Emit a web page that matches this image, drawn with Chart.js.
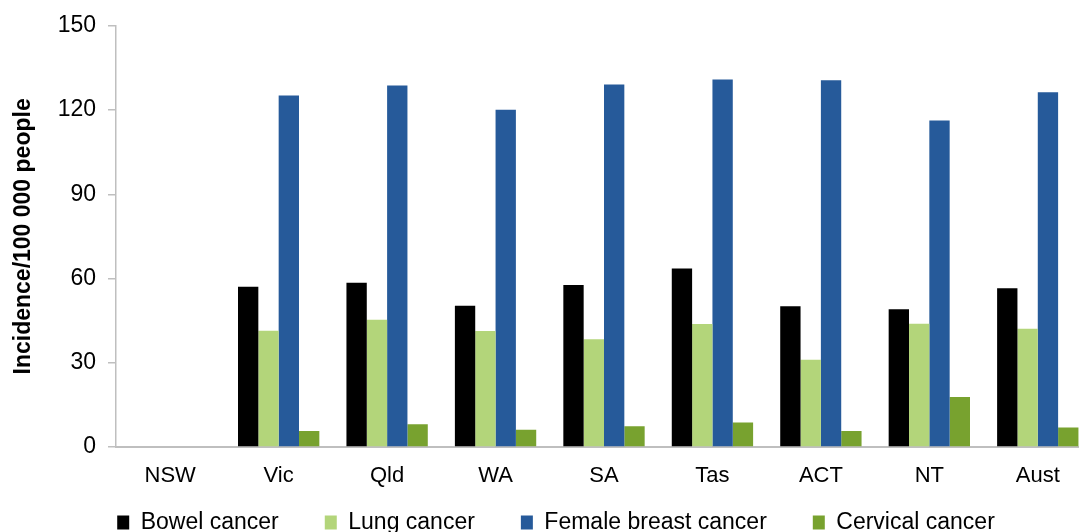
<!DOCTYPE html>
<html>
<head>
<meta charset="utf-8">
<script src="https://cdn.jsdelivr.net/npm/chart.js@4.4.1/dist/chart.umd.min.js"></script>
<style>
    html, body { margin: 0; padding: 0; background: #fff; overflow: hidden; }
    #wrap { width: 1092px; height: 578px; position: relative; }
</style>
</head>
<body>
<div id="wrap"><canvas id="chart"></canvas></div>
<script>
const CATEGORIES = ['NSW', 'Vic', 'Qld', 'WA', 'SA', 'Tas', 'ACT', 'NT', 'Aust'];
const BOWEL = [null, 57.1, 58.5, 50.3, 57.7, 63.6, 50.1, 49.1, 56.5];
const LUNG = [null, 41.4, 45.3, 41.3, 38.4, 43.8, 31.1, 43.9, 42.1];
const BREAST = [null, 125.2, 128.7, 120.1, 129.1, 130.9, 130.6, 116.3, 126.3];
const CERVICAL = [null, 5.7, 8.1, 6.1, 7.4, 8.7, 5.7, 17.8, 6.9];
const Y_TICKS = [0, 30, 60, 90, 120, 150];

const FONT = 'Liberation Sans, Arial, sans-serif';
const AXIS_GREY = '#bfbfbf';
const LEGEND_LIFT = 34;

const series = [
    { label: 'Bowel cancer', data: BOWEL, color: '#000000' },
    { label: 'Lung cancer', data: LUNG, color: '#b3d57a' },
    { label: 'Female breast cancer', data: BREAST, color: '#265a9a' },
    { label: 'Cervical cancer', data: CERVICAL, color: '#78a22f' },
];

// wide label padding spaces the legend items out but also pads it vertically,
// so pull the legend box back up once layout is done
const liftLegend = {
    id: 'liftLegend',
    afterLayout(chart) {
        if (!chart.legend) return;
        chart.legend.top -= LEGEND_LIFT;
        chart.legend.bottom -= LEGEND_LIFT;
    },
};

new Chart(document.getElementById('chart'), {
    type: 'bar',
    data: {
        labels: CATEGORIES,
        datasets: series.map(s => ({
            label: s.label,
            data: s.data,
            backgroundColor: s.color,
            borderWidth: 0,
            barPercentage: 1,
            categoryPercentage: 0.75,
        })),
    },
    plugins: [liftLegend],
    options: {
        responsive: true,
        maintainAspectRatio: false,
        animation: false,
        // left padding pushes the legend centre right; the y scale shrinks to keep the plot edge
        layout: { padding: { top: 25, left: 20, right: 0, bottom: 0 } },
        scales: {
            x: {
                grid: { display: false },
                border: { display: true, color: AXIS_GREY, width: 2 },
                ticks: { color: '#000', padding: 8, font: { family: FONT, size: 22 } },
                afterFit(scale) { scale.height = 52; },
            },
            y: {
                min: 0,
                max: 150,
                afterBuildTicks(scale) { scale.ticks = Y_TICKS.map(v => ({ value: v })); },
                grid: { drawOnChartArea: false, drawTicks: true, tickLength: 8, color: AXIS_GREY, lineWidth: 1.5 },
                border: { display: true, color: AXIS_GREY, width: 1.5 },
                ticks: { color: '#000', padding: 12, font: { family: FONT, size: 23 } },
                title: {
                    display: true,
                    text: 'Incidence/100 000 people',
                    color: '#000',
                    font: { family: FONT, size: 23, weight: 'bold' },
                    padding: { top: -10, bottom: 0 },
                },
                afterFit(scale) { scale.width = 96; },
            },
        },
        plugins: {
            legend: {
                position: 'bottom',
                labels: {
                    color: '#000',
                    boxWidth: 12,
                    boxHeight: 14,
                    padding: 46,
                    font: { family: FONT, size: 23 },
                },
            },
            tooltip: { enabled: false },
        },
    },
});
</script>
</body>
</html>
